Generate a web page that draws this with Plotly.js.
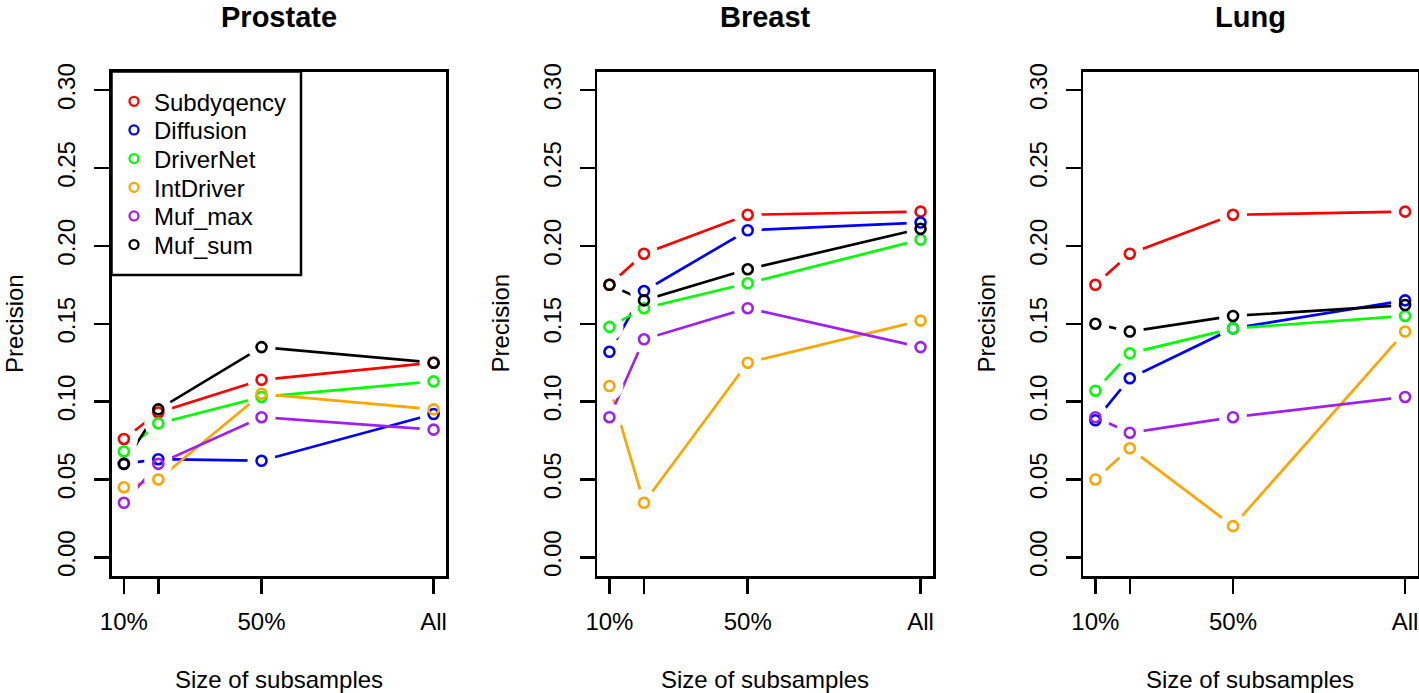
<!DOCTYPE html>
<html><head><meta charset="utf-8">
<script src="https://cdn.plot.ly/plotly-3.0.1.min.js"></script>
<style>html,body{margin:0;padding:0;background:#fff}</style>
</head><body><div id="chart" style="width:1419px;height:693px"></div>
<script>
// ---- data ----
const sizes = [10, 20, 50, 100];
const xTickLabels = ['10%', '', '50%', 'All'];
const yTickVals = [0, 0.05, 0.10, 0.15, 0.20, 0.25, 0.30];
const yTickLabels = ['0.00', '0.05', '0.10', '0.15', '0.20', '0.25', '0.30'];
const methods = ['Subdyqency', 'Diffusion', 'DriverNet', 'IntDriver', 'Muf_max', 'Muf_sum'];
const colors = ['#FF0000', '#0000FF', '#00FF00', '#FFA500', '#A020F0', '#000000'];
const panels = ['Prostate', 'Breast', 'Lung'];

const prostateSubdyqency = [0.076, 0.093, 0.114, 0.125];
const prostateDiffusion  = [0.060, 0.063, 0.062, 0.092];
const prostateDriverNet  = [0.068, 0.086, 0.103, 0.113];
const prostateIntDriver  = [0.045, 0.050, 0.105, 0.095];
const prostateMufMax     = [0.035, 0.060, 0.090, 0.082];
const prostateMufSum     = [0.060, 0.095, 0.135, 0.125];

const breastSubdyqency = [0.175, 0.195, 0.220, 0.222];
const breastDiffusion  = [0.132, 0.171, 0.210, 0.215];
const breastDriverNet  = [0.148, 0.160, 0.176, 0.204];
const breastIntDriver  = [0.110, 0.035, 0.125, 0.152];
const breastMufMax     = [0.090, 0.140, 0.160, 0.135];
const breastMufSum     = [0.175, 0.165, 0.185, 0.211];

const lungSubdyqency = [0.175, 0.195, 0.220, 0.222];
const lungDiffusion  = [0.088, 0.115, 0.147, 0.165];
const lungDriverNet  = [0.107, 0.131, 0.147, 0.155];
const lungIntDriver  = [0.050, 0.070, 0.020, 0.145];
const lungMufMax     = [0.090, 0.080, 0.090, 0.103];
const lungMufSum     = [0.150, 0.145, 0.155, 0.162];

const panelData = [
  [prostateSubdyqency, prostateDiffusion, prostateDriverNet, prostateIntDriver, prostateMufMax, prostateMufSum],
  [breastSubdyqency, breastDiffusion, breastDriverNet, breastIntDriver, breastMufMax, breastMufSum],
  [lungSubdyqency, lungDiffusion, lungDriverNet, lungIntDriver, lungMufMax, lungMufSum]
];

// ---- layout geometry (pixels) ----
const W = 1419, H = 693;
const boxX = [[111.5, 446], [597, 933], [1083, 1417.5]];
const boxTop = 71.5, boxBottom = 576;
const legendBox = {x0: 111.5, x1: 301, y0: 71.5, y1: 275};
const legendRowY0 = 101.7, legendRowStep = 28.66, legendLeft = 114;
const FONT = 'Liberation Sans, Arial, Helvetica, sans-serif';

const traces = [];
panelData.forEach((series, p) => {
  const ax = p === 0 ? '' : String(p + 1);
  // lines
  series.forEach((vals, i) => {
    traces.push({x: sizes, y: vals, xaxis: 'x' + ax, yaxis: 'y' + ax, mode: 'lines',
      line: {color: colors[i], width: 2.7}, showlegend: false, hoverinfo: 'skip'});
  });
  // white gaps around points (R type="b")
  series.forEach((vals, i) => {
    traces.push({x: sizes, y: vals, xaxis: 'x' + ax, yaxis: 'y' + ax, mode: 'markers',
      marker: {color: '#ffffff', size: 28, line: {width: 0}}, showlegend: false, hoverinfo: 'skip'});
  });
  // open circles
  series.forEach((vals, i) => {
    traces.push({x: sizes, y: vals, xaxis: 'x' + ax, yaxis: 'y' + ax, mode: 'markers', name: methods[i],
      marker: {symbol: 'circle-open', size: 10, color: colors[i], line: {width: 2.6, color: colors[i]}},
      showlegend: false});
  });
});
// legend entries: one legend per row so row spacing matches the original
methods.forEach((m, i) => {
  traces.push({x: [null], y: [null], mode: 'markers', name: m,
    legend: i === 0 ? 'legend' : 'legend' + (i + 1),
    marker: {symbol: 'circle-open', size: 9, color: colors[i], line: {width: 2.3, color: colors[i]}},
    showlegend: true});
});

const layout = {
  width: W, height: H,
  margin: {l: 0, r: 0, t: 0, b: 0},
  paper_bgcolor: '#fff', plot_bgcolor: '#fff',
  font: {family: FONT, size: 24, color: '#000'},
  showlegend: true,
  annotations: [],
  shapes: [{type: 'rect', xref: 'paper', yref: 'paper', layer: 'above',
    x0: legendBox.x0 / W, x1: legendBox.x1 / W, y0: 1 - legendBox.y1 / H, y1: 1 - legendBox.y0 / H,
    fillcolor: '#ffffff', line: {color: '#000', width: 2.5}}]
};
methods.forEach((m, i) => {
  const key = i === 0 ? 'legend' : 'legend' + (i + 1);
  layout[key] = {x: legendLeft / W, y: 1 - (legendRowY0 + i * legendRowStep) / H,
    xanchor: 'left', yanchor: 'middle', borderwidth: 0, bgcolor: 'rgba(0,0,0,0)',
    font: {family: FONT, size: 24, color: '#000'}};
});

panels.forEach((name, p) => {
  const ax = p === 0 ? '' : String(p + 1);
  layout['xaxis' + ax] = {
    domain: [boxX[p][0] / W, boxX[p][1] / W], anchor: 'y' + ax,
    range: [6.4, 103.6], tickmode: 'array', tickvals: sizes, ticktext: xTickLabels,
    ticks: 'outside', ticklen: 15, tickwidth: 2.5, tickcolor: '#000',
    showline: true, mirror: true, linecolor: '#000', linewidth: 2.5,
    showgrid: false, zeroline: false, ticklabelstandoff: 8,
    tickfont: {family: FONT, size: 24, color: '#000'}
  };
  layout['yaxis' + ax] = {
    domain: [1 - boxBottom / H, 1 - boxTop / H], anchor: 'x' + ax,
    range: [-0.012, 0.312], tickmode: 'array', tickvals: yTickVals, ticktext: yTickLabels,
    ticks: 'outside', ticklen: 15, tickwidth: 2.5, tickcolor: '#000', tickangle: -90,
    showline: true, mirror: true, linecolor: '#000', linewidth: 2.5,
    showgrid: false, zeroline: false, ticklabelstandoff: 9,
    tickfont: {family: FONT, size: 24, color: '#000'}
  };
  const cx = (boxX[p][0] + boxX[p][1]) / 2;
  layout.annotations.push({text: '<b>' + name + '</b>', xref: 'paper', yref: 'paper',
    x: cx / W, y: 1, xanchor: 'center', yanchor: 'top', showarrow: false, borderpad: 0,
    font: {family: FONT, size: 29, color: '#000'}});
  layout.annotations.push({text: 'Size of subsamples', xref: 'paper', yref: 'paper',
    x: cx / W, y: 1 - 679 / H, xanchor: 'center', yanchor: 'middle', showarrow: false,
    font: {family: FONT, size: 24, color: '#000'}});
  layout.annotations.push({text: 'Precision', xref: 'paper', yref: 'paper', textangle: -90,
    x: (boxX[p][0] - 111.5) / W, y: 1 - 323.5 / H, xanchor: 'left', yanchor: 'middle', showarrow: false,
    borderpad: 0, font: {family: FONT, size: 24, color: '#000'}});
});

Plotly.newPlot('chart', traces, layout, {displayModeBar: false, staticPlot: true});
</script>
</body></html>
